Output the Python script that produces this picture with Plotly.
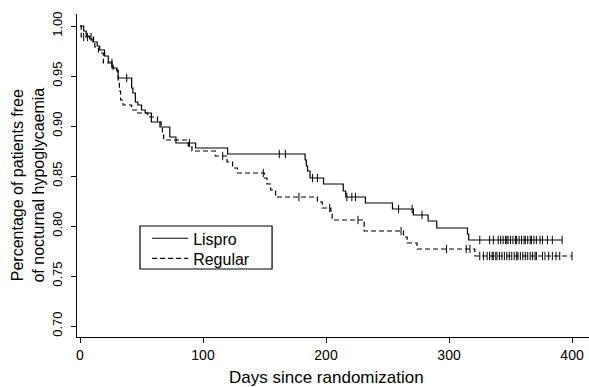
import numpy as np
import plotly.graph_objects as go

# ---------------- data ----------------
lispro_days = [0, 3, 5, 8, 10.5, 14, 16, 20, 23, 26, 30, 31, 42, 43, 45, 47, 50, 53, 58, 65, 73, 78,
               94, 120, 183, 184, 185, 187, 198, 214, 216, 232, 254, 271, 283, 290, 315, 316, 392]
lispro_surv = [1.0, 0.995, 0.99, 0.987, 0.984, 0.98, 0.976, 0.97, 0.964, 0.958, 0.955, 0.948, 0.938,
               0.933, 0.924, 0.921, 0.916, 0.913, 0.904, 0.899, 0.889, 0.883, 0.878, 0.872, 0.866,
               0.86, 0.855, 0.848, 0.842, 0.835, 0.829, 0.823, 0.817, 0.811, 0.805, 0.798, 0.792,
               0.786, 0.786]
lispro_censor = [38, 89, 162, 167, 189, 193, 217, 221, 224, 259, 270, 278, 325, 333, 336, 340, 342,
                 344, 346, 347, 348, 350, 352, 354, 355, 357, 359, 361, 362, 364, 366, 367, 369, 371,
                 374, 376, 380, 384, 392]

regular_days = [0, 1, 11, 12, 15, 19, 27, 31, 32, 33, 35, 42, 47, 55, 63, 66, 67, 68, 88, 91, 110,
                119.5, 124, 128, 150, 152, 155, 159, 193, 197, 204, 205, 231, 263, 266, 274, 321, 400]
regular_surv = [1.0, 0.989, 0.984, 0.979, 0.973, 0.963, 0.956, 0.946, 0.935, 0.926, 0.921, 0.916,
                0.913, 0.909, 0.904, 0.898, 0.892, 0.886, 0.880, 0.875, 0.870, 0.864, 0.858, 0.853,
                0.848, 0.842, 0.836, 0.829, 0.824, 0.818, 0.812, 0.806, 0.795, 0.789, 0.783, 0.777,
                0.770, 0.770]
regular_censor = [3, 6, 9, 26, 116, 149, 178, 203, 226, 261, 298, 314, 317, 325, 328, 331, 333, 335,
                  336, 338, 339, 341, 343, 345, 347, 349, 351, 353, 355, 356, 358, 360, 362, 364, 366,
                  368, 370, 371, 376, 378, 381, 384, 387, 390, 400]

x_ticks = [0, 100, 200, 300, 400]
y_ticks = [0.70, 0.75, 0.80, 0.85, 0.90, 0.95, 1.00]


def surv_at(days, surv, t):
    idx = np.searchsorted(np.array(days), np.array(t), side="right") - 1
    return list(np.array(surv)[idx])


FONT = "Arial, 'Liberation Sans', Helvetica, sans-serif"

fig = go.Figure()
fig.add_trace(go.Scatter(x=lispro_days, y=lispro_surv, mode="lines", line_shape="hv",
                         name="Lispro", legend="legend",
                         line=dict(color="black", width=1.2)))
fig.add_trace(go.Scatter(x=regular_days, y=regular_surv, mode="lines", line_shape="hv",
                         name="Regular", legend="legend2",
                         line=dict(color="black", width=1.2, dash="5px,3px")))
fig.add_trace(go.Scatter(x=lispro_censor, y=surv_at(lispro_days, lispro_surv, lispro_censor),
                         mode="markers", showlegend=False,
                         marker=dict(symbol="line-ns-open", size=6, color="black",
                                     line=dict(width=1, color="black"))))
fig.add_trace(go.Scatter(x=regular_censor, y=surv_at(regular_days, regular_surv, regular_censor),
                         mode="markers", showlegend=False,
                         marker=dict(symbol="line-ns-open", size=6, color="black",
                                     line=dict(width=1, color="black"))))

leg_common = dict(xanchor="left", yanchor="top", borderwidth=0, bgcolor="rgba(0,0,0,0)",
                  font=dict(size=16), itemwidth=36, tracegroupgap=0)

fig.update_layout(
    width=589, height=387,
    margin=dict(l=77, r=0, t=14, b=50),
    paper_bgcolor="white", plot_bgcolor="white",
    font=dict(family=FONT, size=14, color="black"),
    showlegend=True,
    legend=dict(x=0.137, y=0.358, **leg_common),
    legend2=dict(x=0.137, y=0.296, **leg_common),
    xaxis=dict(range=[-2.44, 413.8], tickvals=x_ticks, ticktext=[str(v) for v in x_ticks],
               showline=True, linecolor="black", linewidth=1.2, showgrid=False, zeroline=False,
               ticks="outside", ticklen=5, tickcolor="black", tickfont=dict(size=14),
               automargin=False),
    yaxis=dict(range=[0.689, 1.012], tickvals=y_ticks, ticktext=[f"{v:.2f}" for v in y_ticks],
               showline=True, linecolor="black", linewidth=1.2, showgrid=False, zeroline=False,
               ticks="outside", ticklen=5, tickcolor="black", tickfont=dict(size=13),
               tickangle=-90, automargin=False, ticklabelstandoff=4),
    shapes=[dict(type="rect", xref="paper", yref="paper", x0=0.123, x1=0.381,
                 y0=0.2105, y1=0.3437, line=dict(color="black", width=1.2), layer="below")],
    annotations=[
        dict(text="Percentage of patients free<br>of nocturnal hypoglycaemia",
             xref="paper", yref="paper", x=-0.095, y=0.47, xanchor="center",
             yanchor="middle", textangle=-90, showarrow=False, font=dict(size=16)),
        dict(text="Days since randomization", xref="paper", yref="paper",
             x=0.488, y=-0.125, xanchor="center", yanchor="middle",
             showarrow=False, font=dict(size=17)),
    ],
)

fig.write_html("out.html", config={"displayModeBar": False},
               post_script="document.body.style.margin='0';document.body.style.overflow='hidden';")
